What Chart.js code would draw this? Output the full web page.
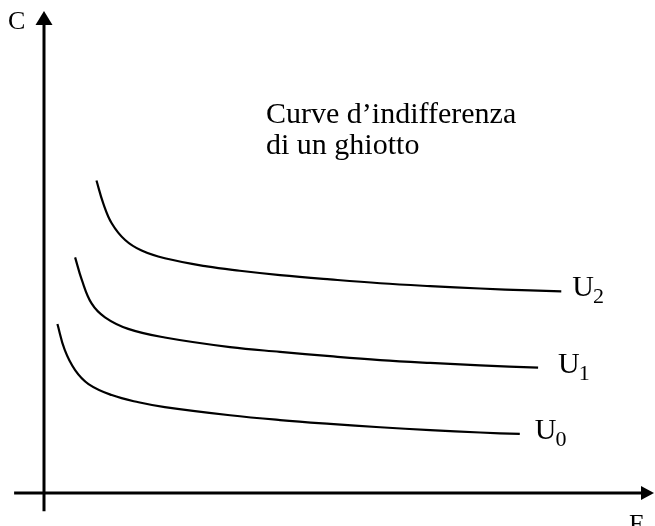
<!DOCTYPE html>
<html>
<head>
<meta charset="utf-8">
<script src="https://cdn.jsdelivr.net/npm/chart.js@4"></script>
<style>
  html, body { margin: 0; padding: 0; background: #fff; }
  canvas { display: block; }
</style>
</head>
<body>
<canvas id="c" width="655" height="526"></canvas>
<script>
// Quantity of F (horizontal) and C (vertical) along each indifference curve
const u0F = [0.22, 0.34, 0.51, 0.73, 1.11, 1.55, 1.98, 3.05, 3.87, 4.69, 5.51, 6.33, 7.15, 7.80];
const u0C = [3.52, 2.98, 2.56, 2.27, 2.04, 1.89, 1.79, 1.62, 1.52, 1.44, 1.37, 1.31, 1.26, 1.23];

const u1F = [0.51, 0.62, 0.78, 1.00, 1.38, 1.98, 3.05, 3.87, 4.69, 5.51, 6.33, 7.15, 8.10];
const u1C = [4.91, 4.44, 3.95, 3.66, 3.42, 3.24, 3.04, 2.94, 2.85, 2.77, 2.71, 2.66, 2.61];

const u2F = [0.86, 0.97, 1.11, 1.33, 1.60, 1.98, 2.67, 3.21, 3.87, 4.69, 5.51, 6.33, 7.15, 7.97, 8.48];
const u2C = [6.51, 6.04, 5.62, 5.27, 5.05, 4.89, 4.72, 4.63, 4.54, 4.45, 4.37, 4.31, 4.26, 4.22, 4.20];

const curveNames = ['U', 'U', 'U'];
const curveIndex = ['0', '1', '2'];
const titleLines = ['Curve d\u2019indifferenza', 'di un ghiotto'];
const axisNames = { x: 'F', y: 'C' };

const toPoints = (xs, ys) => xs.map((x, i) => ({ x, y: ys[i] }));

const SERIF = '"Liberation Serif", "Times New Roman", serif';

function curve(xs, ys, idx, gap) {
  return {
    data: toPoints(xs, ys),
    showLine: true,
    borderColor: '#000',
    borderWidth: 2.2,
    pointRadius: 0,
    fill: false,
    tension: 0.4,
    labelIndex: idx,
    labelGap: gap
  };
}

// Axes with arrow heads, axis names, curve labels and the caption
const decorations = {
  id: 'decorations',
  afterDatasetsDraw(chart) {
    const ctx = chart.ctx;
    const xs = chart.scales.x, ys = chart.scales.y;
    const ox = xs.getPixelForValue(0), oy = ys.getPixelForValue(0);
    const xEnd = xs.getPixelForValue(10), yEnd = ys.getPixelForValue(10) - 2;
    ctx.save();
    ctx.strokeStyle = '#000';
    ctx.fillStyle = '#000';
    ctx.lineWidth = 3;
    ctx.lineCap = 'butt';

    // vertical axis
    ctx.beginPath();
    ctx.moveTo(ox, ys.getPixelForValue(-0.38));
    ctx.lineTo(ox, yEnd + 12);
    ctx.stroke();
    ctx.beginPath();
    ctx.moveTo(ox, yEnd);
    ctx.lineTo(ox - 8.5, yEnd + 14);
    ctx.lineTo(ox + 8.5, yEnd + 14);
    ctx.closePath();
    ctx.fill();

    // horizontal axis
    ctx.beginPath();
    ctx.moveTo(xs.getPixelForValue(-0.49), oy);
    ctx.lineTo(xEnd - 11, oy);
    ctx.stroke();
    ctx.beginPath();
    ctx.moveTo(xEnd, oy);
    ctx.lineTo(xEnd - 13, oy - 7);
    ctx.lineTo(xEnd - 13, oy + 7);
    ctx.closePath();
    ctx.fill();

    ctx.textBaseline = 'alphabetic';
    ctx.textAlign = 'left';
    ctx.font = '26px ' + SERIF;
    ctx.fillText(axisNames.y, ox - 36, yEnd + 18);
    ctx.fillText(axisNames.x, xEnd - 25, oy + 39);

    // caption
    ctx.font = '30px ' + SERIF;
    const tx = xs.getPixelForValue(3.64);
    ctx.fillText(titleLines[0], tx, ys.getPixelForValue(7.71));
    ctx.fillText(titleLines[1], tx, ys.getPixelForValue(7.06));

    // curve labels: U with subscript after the last point
    chart.data.datasets.forEach(ds => {
      const last = ds.data[ds.data.length - 1];
      const px = xs.getPixelForValue(last.x) + ds.labelGap;
      const py = ys.getPixelForValue(last.y) + 5;
      ctx.font = '30px ' + SERIF;
      ctx.fillText(curveNames[ds.labelIndex], px, py);
      const w = ctx.measureText(curveNames[ds.labelIndex]).width;
      ctx.font = '22px ' + SERIF;
      ctx.fillText(curveIndex[ds.labelIndex], px + w - 1, py + 7);
    });
    ctx.restore();
  }
};

new Chart(document.getElementById('c'), {
  type: 'scatter',
  data: {
    datasets: [
      curve(u0F, u0C, 0, 15),
      curve(u1F, u1C, 1, 20),
      curve(u2F, u2C, 2, 11)
    ]
  },
  options: {
    responsive: false,
    animation: false,
    events: [],
    layout: { padding: { left: 44, right: 1, top: 13, bottom: 33 } },
    scales: {
      x: { type: 'linear', min: 0, max: 10, display: false },
      y: { type: 'linear', min: 0, max: 10, display: false }
    },
    plugins: {
      legend: { display: false },
      tooltip: { enabled: false }
    }
  },
  plugins: [decorations]
});
</script>
</body>
</html>
